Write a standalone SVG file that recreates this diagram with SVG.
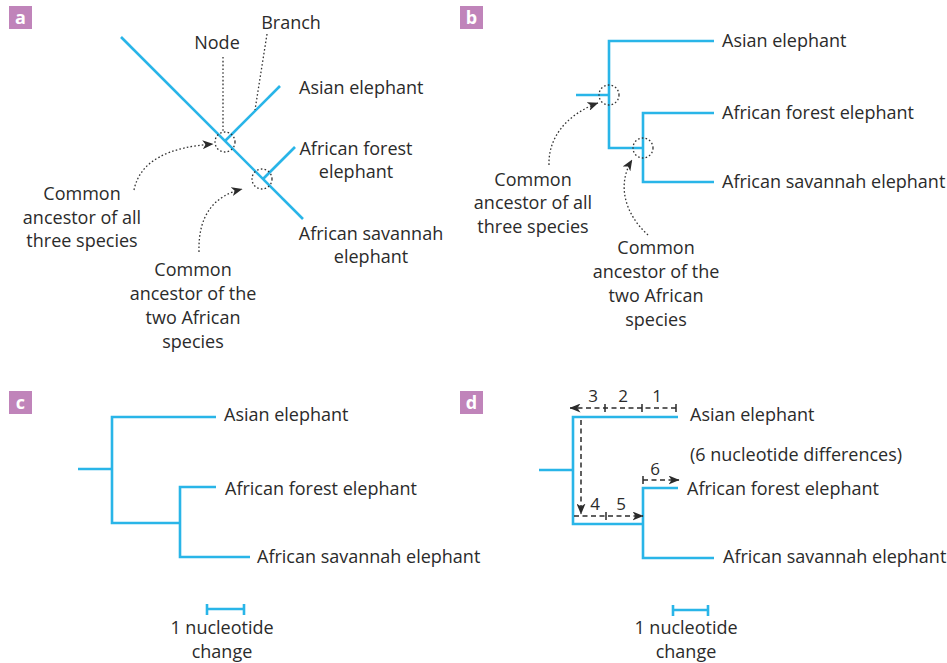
<svg xmlns="http://www.w3.org/2000/svg" width="947" height="663" viewBox="0 0 947 663">
  <defs>
    <style>
      .tree { fill: none; stroke: #29B5E8; stroke-width: 2.6; stroke-linecap: butt; stroke-linejoin: miter; }
      .dot { fill: none; stroke: #333; stroke-width: 1.3; stroke-dasharray: 1.6 2.2; }
      .dash { fill: none; stroke: #2b2b2b; stroke-width: 1.5; stroke-dasharray: 5 3.5; }
      .tick { stroke: #2b2b2b; stroke-width: 1.5; }
      .lbl { font-family: "Open Sans", "Noto Sans", "Liberation Sans", sans-serif; font-size: 18px; fill: #2b2b2b; }
      .num { font-family: "Open Sans", "Noto Sans", "Liberation Sans", sans-serif; font-size: 17px; fill: #2b2b2b; }
      .mid { text-anchor: middle; }
      .tag rect { fill: #C084BA; }
      .tag text { font-family: "Open Sans", "Noto Sans", "Liberation Sans", sans-serif; font-size: 18px; font-weight: bold; fill: #fff; text-anchor: middle; }
    </style>
    <marker id="arr" viewBox="0 0 11 9" refX="10.5" refY="4.5" markerWidth="11" markerHeight="9" markerUnits="userSpaceOnUse" orient="auto">
      <path d="M0,0 L11,4.5 L0,9 L3,4.5 Z" fill="#2b2b2b"/>
    </marker>
  </defs>

  <!-- Panel labels -->
  <g id="tag-a" class="tag"><rect x="9" y="6" width="23" height="23"/><text x="20.5" y="24">a</text></g>
  <g id="tag-b" class="tag"><rect x="460" y="6" width="23" height="23"/><text x="471.5" y="24">b</text></g>
  <g id="tag-c" class="tag"><rect x="9" y="391" width="23" height="23"/><text x="20.5" y="409">c</text></g>
  <g id="tag-d" class="tag"><rect x="460" y="391" width="23" height="23"/><text x="471.5" y="409">d</text></g>

  <!-- Panel a: slanted tree -->
  <g id="tree-a">
    <line class="tree" x1="121" y1="37" x2="303" y2="219"/>
    <line class="tree" x1="225" y1="141" x2="280" y2="86"/>
    <line class="tree" x1="263" y1="179" x2="295" y2="147"/>
  </g>
  <g id="node-a-root"><circle class="dot" cx="225" cy="142" r="10"/></g>
  <g id="node-a-african"><circle class="dot" cx="262" cy="179" r="10"/></g>
  <g id="labels-a">
    <text class="lbl mid" x="217" y="49">Node</text>
    <text class="lbl mid" x="291" y="29">Branch</text>
    <text class="lbl" x="299" y="94">Asian elephant</text>
    <text class="lbl mid" x="356" y="155">African forest</text>
    <text class="lbl mid" x="356" y="178">elephant</text>
    <text class="lbl mid" x="371" y="240">African savannah</text>
    <text class="lbl mid" x="371" y="263">elephant</text>
    <text class="lbl mid" x="82" y="200">Common</text>
    <text class="lbl mid" x="82" y="224">ancestor of all</text>
    <text class="lbl mid" x="82" y="247">three species</text>
    <text class="lbl mid" x="193" y="276">Common</text>
    <text class="lbl mid" x="193" y="300">ancestor of the</text>
    <text class="lbl mid" x="193" y="324">two African</text>
    <text class="lbl mid" x="193" y="348">species</text>
  </g>
  <g id="connectors-a">
    <line class="dot" x1="223" y1="57" x2="223" y2="132"/>
    <line class="dot" x1="267" y1="34" x2="255" y2="110"/>
    <path class="dot" d="M134,190 C140,160 170,147 213,144" marker-end="url(#arr)"/>
    <path class="dot" d="M199,252 C198,215 214,196 242,189" marker-end="url(#arr)"/>
  </g>

  <!-- Panel b: rectangular tree -->
  <g id="tree-b">
    <path class="tree" d="M714,41 H609 V148 H643"/>
    <path class="tree" d="M714,113 H643 V182 H714"/>
    <line class="tree" x1="576" y1="95" x2="609" y2="95"/>
  </g>
  <g id="node-b-root"><circle class="dot" cx="609" cy="95" r="10"/></g>
  <g id="node-b-african"><circle class="dot" cx="643" cy="148" r="10"/></g>
  <g id="labels-b">
    <text class="lbl" x="722" y="47">Asian elephant</text>
    <text class="lbl" x="722" y="119">African forest elephant</text>
    <text class="lbl" x="722" y="188">African savannah elephant</text>
    <text class="lbl mid" x="533" y="186">Common</text>
    <text class="lbl mid" x="533" y="209">ancestor of all</text>
    <text class="lbl mid" x="533" y="233">three species</text>
    <text class="lbl mid" x="656" y="254">Common</text>
    <text class="lbl mid" x="656" y="278">ancestor of the</text>
    <text class="lbl mid" x="656" y="302">two African</text>
    <text class="lbl mid" x="656" y="326">species</text>
  </g>
  <g id="connectors-b">
    <path class="dot" d="M549,165 C548,135 570,113 598,103" marker-end="url(#arr)"/>
    <path class="dot" d="M648,235 C626,215 616,186 632,160" marker-end="url(#arr)"/>
  </g>

  <!-- Panel c: tree with branch lengths -->
  <g id="tree-c">
    <path class="tree" d="M216,417 H112 V523 H180"/>
    <path class="tree" d="M216,487 H180 V557 H250"/>
    <line class="tree" x1="78" y1="469" x2="112" y2="469"/>
  </g>
  <g id="scale-c">
    <path class="tree" d="M207,609 H244 M207,604 V615 M244,604 V615"/>
    <text class="lbl mid" x="222" y="634">1 nucleotide</text>
    <text class="lbl mid" x="222" y="658">change</text>
  </g>
  <g id="labels-c">
    <text class="lbl" x="224" y="421">Asian elephant</text>
    <text class="lbl" x="225" y="495">African forest elephant</text>
    <text class="lbl" x="257" y="563">African savannah elephant</text>
  </g>

  <!-- Panel d: counting nucleotide changes along the path -->
  <g id="tree-d">
    <path class="tree" d="M678,417 H573 V524 H643"/>
    <path class="tree" d="M678,488 H643 V558 H714"/>
    <line class="tree" x1="539" y1="470" x2="573" y2="470"/>
  </g>
  <g id="scale-d">
    <path class="tree" d="M673,610 H708 M673,605 V616 M708,605 V616"/>
    <text class="lbl mid" x="686" y="634">1 nucleotide</text>
    <text class="lbl mid" x="686" y="658">change</text>
  </g>
  <g id="labels-d">
    <text class="lbl" x="690" y="421">Asian elephant</text>
    <text class="lbl" x="690" y="461">(6 nucleotide differences)</text>
    <text class="lbl" x="687" y="495">African forest elephant</text>
    <text class="lbl" x="723" y="563">African savannah elephant</text>
  </g>
  <g id="connectors-d">
    <line class="dash" x1="676" y1="408" x2="570" y2="408" marker-end="url(#arr)"/>
    <line class="dash" x1="581" y1="420" x2="581" y2="514" marker-end="url(#arr)"/>
    <line class="dash" x1="574" y1="516" x2="643" y2="516" marker-end="url(#arr)"/>
    <line class="dash" x1="643" y1="480" x2="679" y2="480" marker-end="url(#arr)"/>
    <path class="tick" d="M605,404 V412 M642,404 V412 M676,404 V412 M606,512 V520 M643,476 V484"/>
    <text class="num mid" x="593" y="402">3</text>
    <text class="num mid" x="623" y="402">2</text>
    <text class="num mid" x="657" y="402">1</text>
    <text class="num mid" x="595" y="510">4</text>
    <text class="num mid" x="621" y="510">5</text>
    <text class="num mid" x="655" y="475">6</text>
  </g>
</svg>
